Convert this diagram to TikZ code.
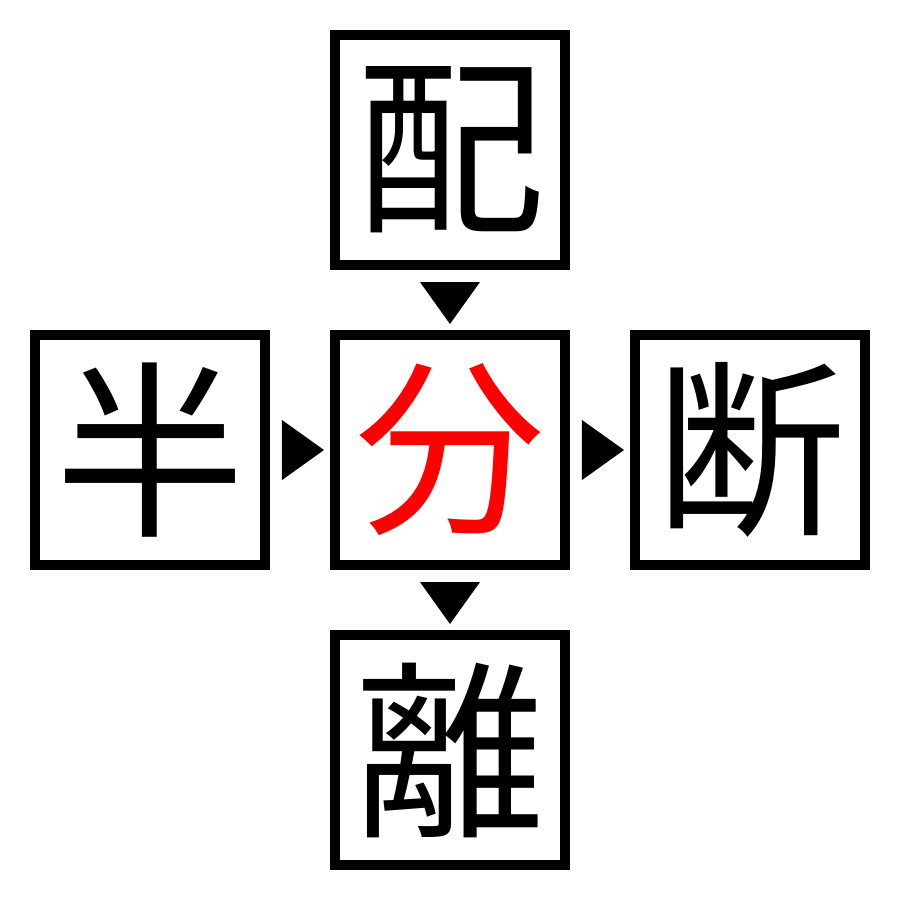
\documentclass[tikz,border=0pt]{standalone}
\usepackage{fontspec}
\newfontfamily\cjk{Noto Sans CJK JP}
\usetikzlibrary{calc}

\tikzset{
  box/.style={draw, line width=1mm, minimum size=2.3cm, inner sep=0pt,
    font=\cjk\fontsize{54}{54}\selectfont},
  tri/.pic={\fill (-0.18,0.3) -- (-0.18,-0.3) -- (0.24,0) -- cycle;}
}

\begin{document}
\begin{tikzpicture}
\useasboundingbox (-4.5,-4.5) rectangle (4.5,4.5);

% the five boxes
\node[box] (hai) at (0,3) {配};
\node[box, text=red] (bun) at (0,0) {分};
\node[box] (han) at (-3,0) {半};
\node[box] (dan) at (3,0) {断};
\node[box] (ri) at (0,-3) {離};

% triangles between them
\coordinate (m1) at ($(hai.south)!0.5!(bun.north)$);
\coordinate (m2) at ($(han.east)!0.5!(bun.west)$);
\coordinate (m3) at ($(bun.east)!0.5!(dan.west)$);
\coordinate (m4) at ($(bun.south)!0.5!(ri.north)$);
\pic[rotate=-90] at (m1) {tri};
\pic at (m2) {tri};
\pic at (m3) {tri};
\pic[rotate=-90] at (m4) {tri};
\end{tikzpicture}
\end{document}
